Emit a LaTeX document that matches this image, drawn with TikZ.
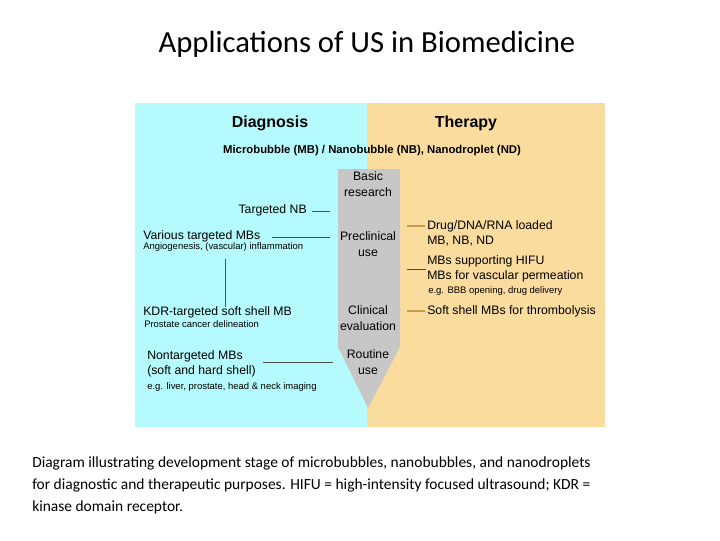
\documentclass[tikz,border=0pt]{standalone}
\usepackage{fontspec}
\setmainfont{Liberation Sans}
\newfontfamily\calfont{Carlito}
\definecolor{cy}{HTML}{B5FBFE}
\definecolor{og}{HTML}{FBDC9F}
\definecolor{ol}{HTML}{C89B45}
\begin{document}
\begin{tikzpicture}[x=0.75pt,y=-0.75pt,
  lab/.style={inner sep=0pt,font=\fontsize{9.2}{9.5}\selectfont},
  sml/.style={inner sep=0pt,font=\fontsize{7.1}{7.5}\selectfont},
  ln/.style={draw=black!70,line width=0.6pt},
  oln/.style={draw=ol,line width=0.8pt}]
\useasboundingbox (0,0) rectangle (720,540);
\fill[cy] (135,103) rectangle (367,427);
\fill[og] (367,103) rectangle (605,427);
\fill[black!22] (338,169) -- (400,169) -- (400,347) -- (368,408) -- (338,347) -- cycle;
\node[font=\calfont\fontsize{23}{26}\selectfont] (title) at (367,44) {Applications of US in Biomedicine};
\node[font=\bfseries\fontsize{12}{13}\selectfont] (dg) at (270,123) {Diagnosis};
\node[font=\bfseries\fontsize{12}{13}\selectfont] (th) at (466,123) {Therapy};
\node[font=\bfseries\fontsize{8.5}{9}\selectfont] (mb) at (372,151) {Microbubble (MB) / Nanobubble (NB), Nanodroplet (ND)};
\node[lab,align=center] (s1) at (368,184) {Basic\\[2pt]research};
\node[lab,align=center] (s2) at (368,244) {Preclinical\\[2pt]use};
\node[lab,align=center] (s3) at (368,318) {Clinical\\[2pt]evaluation};
\node[lab,align=center] (s4) at (368,362) {Routine\\[2pt]use};
\node[lab,anchor=east] (tnb) at (307,210) {Targeted NB};
\node[lab,anchor=west] (vt) at (143,236) {Various targeted MBs};
\node[sml,anchor=west] (ang) at (143,247) {Angiogenesis, (vascular) inflammation};
\node[lab,anchor=west] (kdr) at (143,312) {KDR-targeted soft shell MB};
\node[sml,anchor=west] (pro) at (144,324) {Prostate cancer delineation};
\node[lab,anchor=west] (nt) at (147,356) {Nontargeted MBs};
\node[lab,anchor=west] (nt2) at (147,371) {(soft and hard shell)};
\node[sml,anchor=west] (eg1) at (147,387) {e.g. liver, prostate, head \& neck imaging};
\node[lab,anchor=west] (dr) at (427,226) {Drug/DNA/RNA loaded};
\node[lab,anchor=west] (dr2) at (427,241) {MB, NB, ND};
\node[lab,anchor=west] (hf) at (427,261) {MBs supporting HIFU};
\node[lab,anchor=west] (vp) at (427,276) {MBs for vascular permeation};
\node[sml,anchor=west] (eg2) at (428,291) {e.g. BBB opening, drug delivery};
\node[lab,anchor=west] (ss) at (427,311) {Soft shell MBs for thrombolysis};
\coordinate (a1) at (312,211); \coordinate (a2) at (330,211);
\coordinate (b1) at (272,237); \coordinate (b2) at (330,237);
\coordinate (c1) at (225,259); \coordinate (c2) at (225,307);
\coordinate (d1) at (263,362); \coordinate (d2) at (333,362);
\coordinate (e1) at (407,226); \coordinate (e2) at (425,226);
\coordinate (f1) at (407,269); \coordinate (f2) at (426,269);
\coordinate (g1) at (407,311); \coordinate (g2) at (425,311);
\draw[ln] (a1) -- (a2); \draw[ln] (b1) -- (b2); \draw[ln] (c1) -- (c2); \draw[ln] (d1) -- (d2);
\draw[oln] (e1) -- (e2); \draw[ln] (f1) -- (f2); \draw[oln] (g1) -- (g2);
\node[font=\calfont\fontsize{11.6}{16.5}\selectfont,anchor=north west,align=left,inner sep=0pt] (cap) at (32,456)
{Diagram illustrating development stage of microbubbles, nanobubbles, and nanodroplets\\for diagnostic and therapeutic purposes. HIFU = high-intensity focused ultrasound; KDR =\\kinase domain receptor.};
\end{tikzpicture}
\end{document}
